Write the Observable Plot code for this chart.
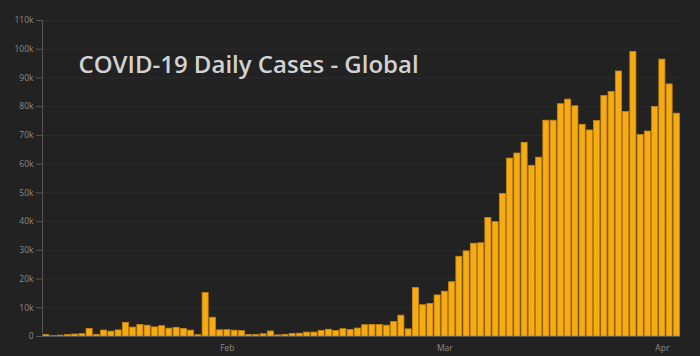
<!DOCTYPE html>
<html><head><meta charset="utf-8">
<script src="https://cdn.jsdelivr.net/npm/d3@7"></script>
<script src="https://cdn.jsdelivr.net/npm/@observablehq/plot@0.6"></script>
<style>
html,body{margin:0;padding:0;background:#222222;}
#chart{width:700px;height:356px;overflow:hidden;}
</style></head><body><div id="chart"></div>
<script>
const title = "COVID-19 Daily Cases - Global";
const dates = [
"2020-01-22","2020-01-23","2020-01-24","2020-01-25","2020-01-26","2020-01-27","2020-01-28","2020-01-29","2020-01-30","2020-01-31",
"2020-02-01","2020-02-02","2020-02-03","2020-02-04","2020-02-05","2020-02-06","2020-02-07","2020-02-08","2020-02-09","2020-02-10",
"2020-02-11","2020-02-12","2020-02-13","2020-02-14","2020-02-15","2020-02-16","2020-02-17","2020-02-18","2020-02-19","2020-02-20",
"2020-02-21","2020-02-22","2020-02-23","2020-02-24","2020-02-25","2020-02-26","2020-02-27","2020-02-28","2020-02-29",
"2020-03-01","2020-03-02","2020-03-03","2020-03-04","2020-03-05","2020-03-06","2020-03-07","2020-03-08","2020-03-09","2020-03-10",
"2020-03-11","2020-03-12","2020-03-13","2020-03-14","2020-03-15","2020-03-16","2020-03-17","2020-03-18","2020-03-19","2020-03-20",
"2020-03-21","2020-03-22","2020-03-23","2020-03-24","2020-03-25","2020-03-26","2020-03-27","2020-03-28","2020-03-29","2020-03-30","2020-03-31",
"2020-04-01","2020-04-02","2020-04-03","2020-04-04","2020-04-05","2020-04-06","2020-04-07","2020-04-08","2020-04-09","2020-04-10",
"2020-04-11","2020-04-12","2020-04-13","2020-04-14","2020-04-15","2020-04-16","2020-04-17","2020-04-18"
];
const cases = [
555, 98, 288, 493, 684, 809, 2651, 588, 2068, 1693,
2111, 4749, 3094, 4011, 3743, 3161, 3592, 2729, 3030, 2612,
2037, 450, 15151, 6518, 2145, 2196, 2034, 1874, 505, 558,
800, 1756, 386, 585, 845, 982, 1359, 1368, 1889,
2358, 1938, 2535, 2280, 2762, 3915, 4046, 3974, 3769, 5030,
7255, 2477, 16853, 10896, 11353, 14300, 15600, 18900, 27749, 29638,
32299, 32446, 41282, 39810, 49608, 61938, 63700, 67415, 59411, 62248, 75122,
75118, 80861, 82451, 80143, 73694, 71727, 74995, 83726, 85076, 92248,
78124, 99071, 70117, 71353, 79863, 96383, 87753, 77569
];
const yTicks = [0, 10000, 20000, 30000, 40000, 50000, 60000, 70000, 80000, 90000, 100000, 110000];
const xTickDates = ["2020-02-16T12:00Z", "2020-03-17T12:00Z", "2020-04-16T12:00Z"];
const xTickLabels = ["Feb", "Mar", "Apr"];

const data = dates.map((d, i) => ({date: new Date(d), cases: cases[i]}));
const xStart = new Date(dates[0]);
const xEnd = d3.utcDay.offset(new Date(dates[dates.length - 1]), 1);

const chart = Plot.plot({
  width: 700,
  height: 356,
  marginLeft: 42,
  marginRight: 20,
  marginTop: 20,
  marginBottom: 20,
  style: {background: "#222222", color: "#8a8a8a", fontSize: "8.5px", fontFamily: "'Open Sans', sans-serif"},
  x: {type: "utc", domain: [xStart, xEnd], label: null},
  y: {domain: [0, 110000], label: null},
  marks: [
    Plot.gridY(yTicks, {stroke: "#2c2c2c", strokeOpacity: 1}),
    Plot.axisY(yTicks, {tickFormat: d => d === 0 ? "0" : d / 1000 + "k", tickSize: 6, tickPadding: 3, stroke: "#555", fill: "#8a8a8a"}),
    Plot.axisX(xTickDates.map(s => new Date(s)), {tickFormat: (d, i) => xTickLabels[i], tickSize: 0, tickPadding: 8, fill: "#8a8a8a"}),
    Plot.rectY(data, {x1: "date", x2: d => d3.utcDay.offset(d.date, 1), y: "cases", fill: "#F6AA14", stroke: "#C8870C", strokeWidth: 0.8, insetLeft: 0.6, insetRight: 0.6}),
    Plot.ruleX([xStart], {stroke: "#555"}),
    Plot.ruleY([0], {stroke: "#555"}),
    Plot.text([title], {frameAnchor: "top-left", dx: 36, dy: 52, lineAnchor: "bottom", textAnchor: "start", fontSize: 24, fontWeight: 600, fill: "#d2d2d2", fontFamily: "'Open Sans', sans-serif"})
  ]
});
document.getElementById("chart").append(chart);
</script></body></html>
